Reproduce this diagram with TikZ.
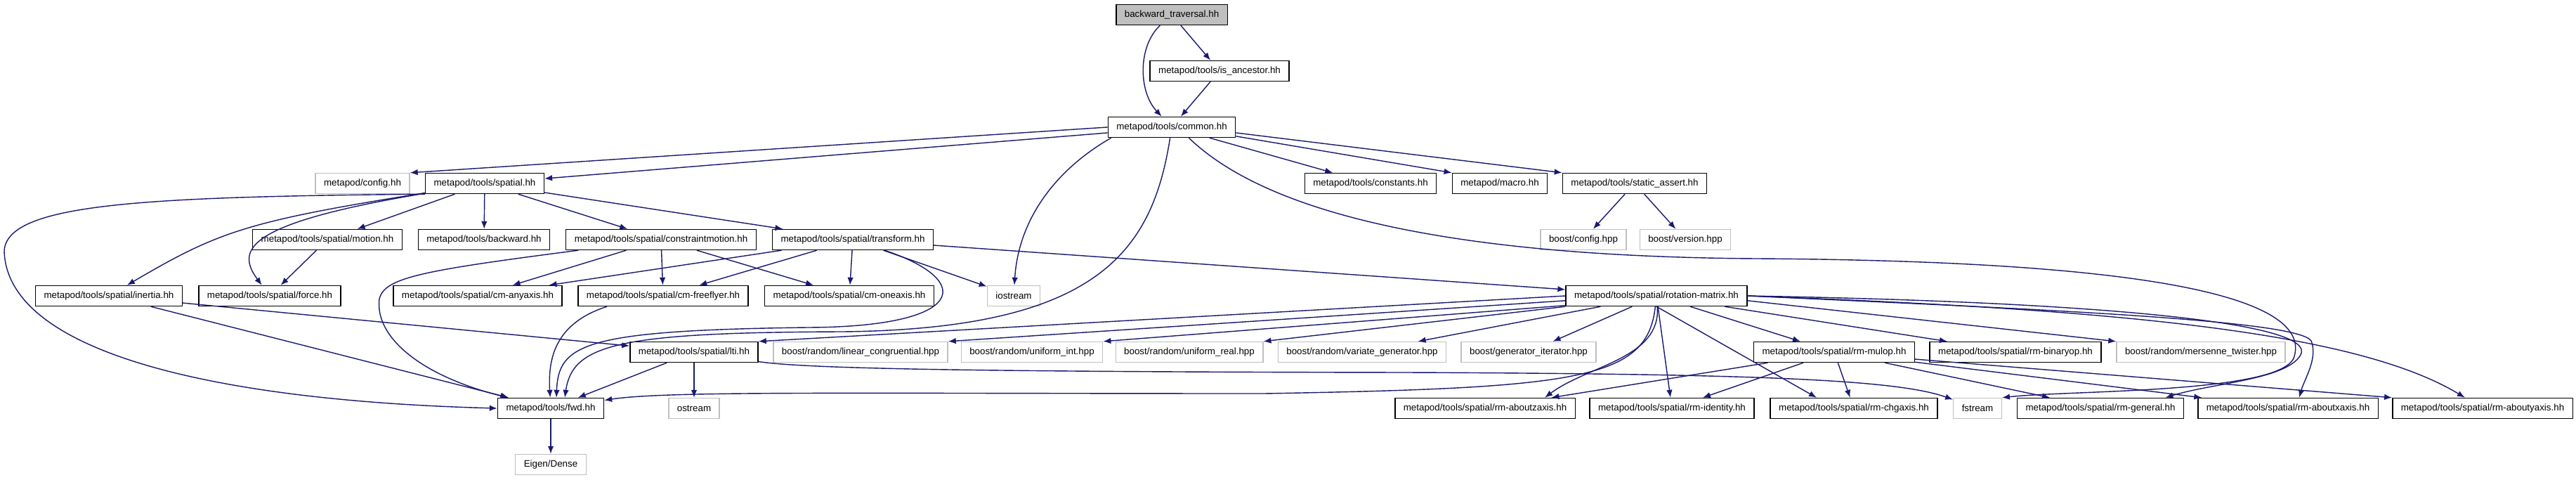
\documentclass[tikz,border=0pt]{standalone}
\usepackage{fontspec}
\setmainfont{Liberation Sans}
\usetikzlibrary{arrows.meta}
\definecolor{incl}{RGB}{25,25,112}
\definecolor{sysgray}{RGB}{191,191,191}

\begin{document}
\begin{tikzpicture}[
  file/.style={draw, line width=0.8pt, minimum height=0.58cm, inner xsep=0.24cm, inner ysep=0pt,
    font=\fontsize{7.6}{9}\selectfont},
  sys/.style={file, draw=sysgray},
  dep/.style={-{Latex[length=0.22cm,width=0.17cm]}, incl, line width=0.8pt}]
  \useasboundingbox (0,0) rectangle (73.34,-13.66);
  \node[file, fill=sysgray] (bt) at (33.36,-0.42) {backward\_traversal.hh};
  \node[file] (isanc) at (34.72,-2.02) {metapod/tools/is\_ancestor.hh};
  \node[file] (common) at (33.36,-3.62) {metapod/tools/common.hh};
  \node[sys] (config) at (10.32,-5.22) {metapod/config.hh};
  \node[file] (spatial) at (13.80,-5.22) {metapod/tools/spatial.hh};
  \node[file] (constants) at (39.02,-5.22) {metapod/tools/constants.hh};
  \node[file] (macro) at (42.70,-5.22) {metapod/macro.hh};
  \node[file] (sassert) at (46.54,-5.22) {metapod/tools/static\_assert.hh};
  \node[file] (motion) at (9.32,-6.82) {metapod/tools/spatial/motion.hh};
  \node[file] (backward) at (13.78,-6.82) {metapod/tools/backward.hh};
  \node[file] (cmotion) at (18.82,-6.82) {metapod/tools/spatial/constraintmotion.hh};
  \node[file] (transform) at (24.28,-6.82) {metapod/tools/spatial/transform.hh};
  \node[sys] (bconfig) at (45.08,-6.82) {boost/config.hpp};
  \node[sys] (bversion) at (47.98,-6.82) {boost/version.hpp};
  \node[file] (inertia) at (3.10,-8.42) {metapod/tools/spatial/inertia.hh};
  \node[file] (force) at (7.68,-8.42) {metapod/tools/spatial/force.hh};
  \node[file] (cmany) at (13.60,-8.42) {metapod/tools/spatial/cm-anyaxis.hh};
  \node[file] (cmfree) at (18.88,-8.42) {metapod/tools/spatial/cm-freeflyer.hh};
  \node[file] (cmone) at (24.18,-8.42) {metapod/tools/spatial/cm-oneaxis.hh};
  \node[sys] (iostream) at (28.86,-8.42) {iostream};
  \node[file] (rot) at (47.16,-8.42) {metapod/tools/spatial/rotation-matrix.hh};
  \node[file] (lti) at (19.76,-10.02) {metapod/tools/spatial/lti.hh};
  \node[sys] (lincong) at (24.50,-10.02) {boost/random/linear\_congruential.hpp};
  \node[sys] (unifint) at (29.38,-10.02) {boost/random/uniform\_int.hpp};
  \node[sys] (unifreal) at (33.86,-10.02) {boost/random/uniform\_real.hpp};
  \node[sys] (variate) at (38.78,-10.02) {boost/random/variate\_generator.hpp};
  \node[sys] (geniter) at (43.52,-10.02) {boost/generator\_iterator.hpp};
  \node[file] (mulop) at (52.22,-10.02) {metapod/tools/spatial/rm-mulop.hh};
  \node[file] (binop) at (57.38,-10.02) {metapod/tools/spatial/rm-binaryop.hh};
  \node[sys] (mersenne) at (62.66,-10.02) {boost/random/mersenne\_twister.hpp};
  \node[file] (fwd) at (15.68,-11.62) {metapod/tools/fwd.hh};
  \node[sys] (ostream) at (19.76,-11.62) {ostream};
  \node[file] (rmz) at (42.28,-11.62) {metapod/tools/spatial/rm-aboutzaxis.hh};
  \node[file] (rmid) at (47.60,-11.62) {metapod/tools/spatial/rm-identity.hh};
  \node[file] (rmchg) at (52.78,-11.62) {metapod/tools/spatial/rm-chgaxis.hh};
  \node[sys] (fstream) at (56.30,-11.62) {fstream};
  \node[file] (rmgen) at (59.80,-11.62) {metapod/tools/spatial/rm-general.hh};
  \node[file] (rmx) at (65.14,-11.62) {metapod/tools/spatial/rm-aboutxaxis.hh};
  \node[file] (rmy) at (70.68,-11.62) {metapod/tools/spatial/rm-aboutyaxis.hh};
  \node[sys] (eigen) at (15.68,-13.22) {Eigen/Dense};
  % top
  \draw[dep] (bt) .. controls (32.4,-1.3) and (32.4,-2.6) .. (common);
  \draw[dep] (bt) -- (isanc);
  \draw[dep] (isanc) -- (common);
  % common.hh
  \draw[dep] (common.180) -- (config.north east);
  \draw[dep] (common.185) -- (spatial);
  \draw[dep] (common) -- (constants);
  \draw[dep] (common.-8) -- (macro.north west);
  \draw[dep] (common.-5) -- (sassert.north west);
  \draw[dep] (common.190) .. controls (30.1,-4.8) and (29.0,-6.2) .. (iostream);
  \draw[dep] (common) .. controls (32.8,-7.2) and (31.2,-9.36) .. (24.0,-9.44)
    .. controls (17.6,-9.46) and (16.3,-9.8) .. ([xshift=0.4cm]fwd.north);
  \draw[dep] (common.-32) .. controls (36.0,-6.0) and (41.0,-7.3) .. (50.0,-7.36)
    .. controls (63.0,-7.44) and (65.8,-8.8) .. (65.3,-10.2)
    .. controls (64.8,-11.2) and (59.0,-11.1) .. (fstream.north east);
  % spatial.hh
  \draw[dep] (spatial.south west) .. controls (4.0,-5.6) and (0.2,-5.8) .. (0.12,-7.14)
    .. controls (0.2,-10.0) and (6.0,-11.4) .. (fwd.west);
  \draw[dep] (spatial) .. controls (7.0,-6.3) and (6.2,-6.6) .. (inertia);
  \draw[dep] (spatial) .. controls (7.0,-6.35) and (6.7,-7.1) .. (force);
  \draw[dep] (spatial) -- (motion);
  \draw[dep] (spatial) -- (backward);
  \draw[dep] (spatial) -- (cmotion);
  \draw[dep] (spatial) -- (transform);
  \draw[dep] (motion) -- (force);
  % constraintmotion.hh
  \draw[dep] (cmotion) -- (cmany);
  \draw[dep] (cmotion) -- (cmfree);
  \draw[dep] (cmotion) -- (cmone);
  \draw[dep] (cmotion) .. controls (12.0,-7.7) and (10.96,-7.9) .. (10.8,-8.5)
    .. controls (10.66,-9.6) and (12.0,-10.7) .. (fwd);
  % transform.hh
  \draw[dep] (transform) -- (cmany);
  \draw[dep] (transform) -- (cmfree);
  \draw[dep] (transform) -- (cmone);
  \draw[dep] (transform) -- (iostream);
  \draw[dep] (transform) -- (rot);
  \draw[dep] (transform) .. controls (27.8,-8.0) and (27.5,-9.3) .. (23.0,-9.32)
    .. controls (16.6,-9.4) and (15.9,-9.8) .. ([xshift=0.16cm]fwd.north);
  \draw[dep] (inertia) -- (fwd);
  \draw[dep] (inertia) -- (lti);
  \draw[dep] ([xshift=-1.6cm]cmfree.south) .. controls (15.8,-9.2) and (15.6,-10.2) .. (fwd);
  % lti.hh
  \draw[dep] (lti) -- (fwd);
  \draw[dep] (lti) -- (ostream);
  \draw[dep] (lti) .. controls (23.0,-10.5) and (28.0,-10.58) .. (40.0,-10.6)
    .. controls (50.0,-10.64) and (54.0,-10.8) .. (fstream);
  % rotation-matrix.hh
  \draw[dep] (rot.180) -- (lti.north east);
  \draw[dep] (rot.183) -- (lincong.north east);
  \draw[dep] (rot.186) -- (unifint.north east);
  \draw[dep] (rot.south west) -- (unifreal.north east);
  \draw[dep] (rot) -- (variate);
  \draw[dep] (rot) -- (geniter);
  \draw[dep] (rot) .. controls (46.9,-10.8) and (45.0,-11.04) .. (36.0,-11.2)
    .. controls (24.0,-11.2) and (19.0,-11.12) .. (fwd);
  \draw[dep] (rot) .. controls (47.3,-10.2) and (45.2,-10.4) .. ([xshift=1.7cm]rmz.north);
  \draw[dep] (rot) -- (rmid);
  \draw[dep] (rot.south) -- ([xshift=-1.06cm]rmchg.north);
  \draw[dep] (rot) -- (mulop);
  \draw[dep] (rot) -- (binop);
  \draw[dep] (rot.-3) -- (mersenne.north west);
  \draw[dep] (rot.east) .. controls (60.0,-8.6) and (66.0,-9.2) .. (65.5,-10.1)
    .. controls (65.1,-10.8) and (63.0,-10.9) .. ([xshift=1.85cm]rmgen.north);
  \draw[dep] (rot.east) .. controls (58.0,-8.8) and (65.4,-9.1) .. (65.8,-9.7)
    .. controls (66.0,-10.2) and (65.6,-10.8) .. ([xshift=0.32cm]rmx.north);
  \draw[dep] (rot.east) .. controls (60.0,-8.8) and (67.0,-9.4) .. (rmy);
  % rm-mulop.hh
  \draw[dep] (mulop) -- (rmz);
  \draw[dep] (mulop) -- (rmid);
  \draw[dep] (mulop) -- (rmchg);
  \draw[dep] (mulop) -- (rmgen);
  \draw[dep] (mulop) -- (rmx);
  \draw[dep] (mulop.-5) -- (rmy.north west);
  \draw[dep] (sassert) -- (bconfig);
  \draw[dep] (sassert) -- (bversion);
  \draw[dep] (fwd) -- (eigen);
\end{tikzpicture}
\end{document}
